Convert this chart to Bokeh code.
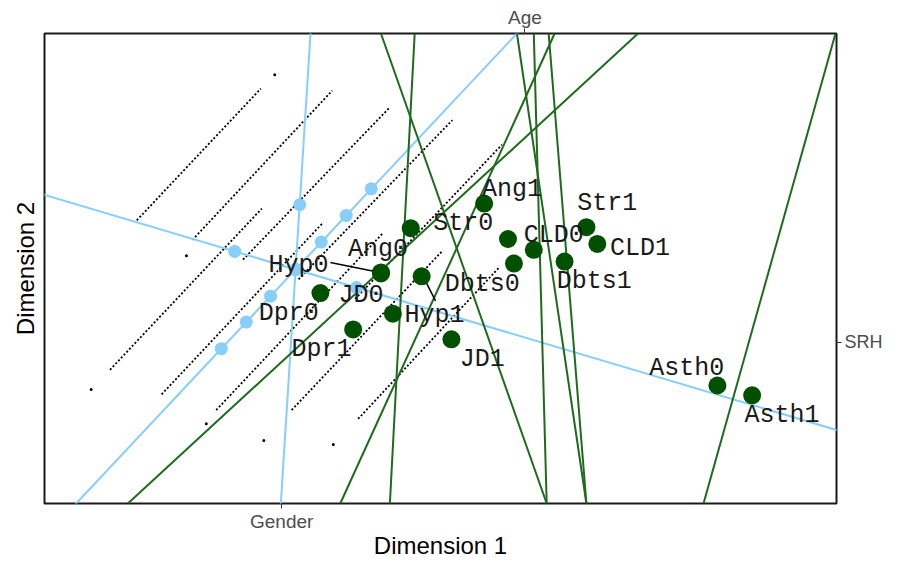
import numpy as np
from bokeh.plotting import figure
from bokeh.models import Range1d, LinearAxis, FixedTicker, ColumnDataSource
from bokeh.core.properties import value
from bokeh.embed import file_html
from bokeh.resources import INLINE

# ---------------- data ----------------
# calibrated (continuous) axes through the origin
axis_names = ["Age", "Gender", "SRH"]
axis_dir_x = [2.23, 0.15, 7.98]
axis_dir_y = [2.40, 2.40, -2.39]
axis_marks = [[-1.10, -0.73, -0.37, 0.0, 0.38, 0.75, 1.12],
              [0.0, 0.66],
              [-0.64, 0.0, 0.64]]
# where the axis labels sit on the frame
age_tick_x = 2.31
gender_tick_x = -0.14
srh_tick_y = -0.74

# category level points
cat_names = ["Ang1", "Str0", "CLD0", "Str1", "CLD1", "Dbts1", "Dbts0", "Ang0",
             "Hyp0", "Hyp1", "JD0", "Dpr0", "Dpr1", "JD1", "Asth0", "Asth1", ""]
cat_x = [1.90, 1.16, 2.14, 2.93, 3.04, 2.71, 2.20, 0.86,
         0.86, 1.27, 0.98, 0.25, 0.58, 1.57, 4.25, 4.60, 2.40]
cat_y = [0.67, 0.42, 0.31, 0.43, 0.26, 0.08, 0.06, -0.03,
         -0.04, -0.07, -0.45, -0.24, -0.61, -0.71, -1.18, -1.28, 0.20]
# label positions (repelled)
lab_x = [2.18, 1.69, 2.60, 3.14, 3.47, 3.01, 1.88, 0.83,
         0.03, 1.40, 0.66, -0.07, 0.26, 1.88, 3.94, 4.90, 0]
lab_y = [0.81, 0.47, 0.35, 0.67, 0.21, -0.12, -0.15, 0.20,
         0.04, -0.47, -0.26, -0.45, -0.81, -0.92, -1.01, -1.48, 0]
# leader segments
lead_x0 = [0.35, 1.29]
lead_y0 = [0.07, -0.08]
lead_x1 = [0.85, 1.41]
lead_y1 = [-0.03, -0.32]

# category boundary lines
bnd_x0 = [-1.69, 0.95, 0.86, 2.23, 2.40, 2.55, 2.61, 5.44]
bnd_y0 = [-2.38, -2.38, 2.40, 2.40, 2.40, 2.40, 2.40, 2.40]
bnd_x1 = [3.45, 1.20, 2.53, 2.93, 2.53, 2.93, 0.45, 4.11]
bnd_y1 = [2.40, 2.40, -2.38, -2.38, -2.38, -2.38, -2.38, -2.38]

# dotted region lines
dot_x0 = [-1.60, -1.04, -0.53, 0.03, 0.60, -1.87, -1.35, -0.80, -0.04, 0.63]
dot_y0 = [0.50, 0.30, 0.10, -0.10, -0.30, -1.02, -1.27, -1.43, -1.43, -1.52]
dot_x1 = [-0.35, 0.37, 0.95, 1.58, 2.08, -0.34, 0.28, 0.88, 1.48, 2.05]
dot_y1 = [1.84, 1.82, 1.65, 1.52, 1.27, 0.62, 0.48, 0.37, 0.19, 0.02]
# isolated points of the dotted regions
stray_x = [-0.21, -2.06, -0.90, -0.32, 0.38, -1.10]
stray_y = [1.98, -1.22, -1.57, -1.74, -1.78, 0.14]

# ---------------- figure ----------------
p = figure(frame_width=792, frame_height=470,
           x_range=Range1d(-2.53, 5.45), y_range=Range1d(-2.38, 2.40),
           output_backend="svg", toolbar_location=None,
           x_axis_location=None, y_axis_location=None,
           min_border_left=44, min_border_right=46, min_border_top=33,
           min_border_bottom=58)
p.grid.grid_line_color = None
p.outline_line_color = "#1a1a1a"
p.outline_line_width = 2
p.background_fill_color = "white"
p.border_fill_color = "white"

def style_axis(ax):
    ax.axis_line_color = None
    ax.major_tick_out = 5
    ax.major_tick_in = 0
    ax.major_tick_line_color = "#333333"
    ax.major_tick_line_width = 1
    ax.minor_tick_line_color = None
    ax.major_label_text_font = "Liberation Sans"
    ax.major_label_text_font_size = "19px"
    ax.major_label_text_color = "#4d4d4d"
    ax.major_label_standoff = 2
    ax.axis_label_text_font = "Liberation Sans"
    ax.axis_label_text_font_size = "24px"
    ax.axis_label_text_font_style = "normal"
    ax.axis_label_text_color = "black"
    ax.axis_label_standoff = -3

bottom = LinearAxis(ticker=FixedTicker(ticks=[gender_tick_x]),
                    major_label_overrides={gender_tick_x: "Gender"},
                    axis_label="Dimension 1")
style_axis(bottom)
p.add_layout(bottom, "below")

top = LinearAxis(ticker=FixedTicker(ticks=[age_tick_x]),
                 major_label_overrides={age_tick_x: "Age"})
style_axis(top)
top.major_label_standoff = 1
p.add_layout(top, "above")

right = LinearAxis(ticker=FixedTicker(ticks=[srh_tick_y]),
                   major_label_overrides={srh_tick_y: "SRH"})
style_axis(right)
right.major_label_text_font_size = "18px"
right.major_label_standoff = 3
right.major_label_orientation = "horizontal"
p.add_layout(right, "right")

left = LinearAxis(ticker=FixedTicker(ticks=[]), axis_label="Dimension 2")
style_axis(left)
left.major_tick_out = 0
left.major_label_standoff = 0
left.axis_label_standoff = 6
p.add_layout(left, "left")

# dotted region lines
p.segment(dot_x0, dot_y0, dot_x1, dot_y1, line_color="black", line_width=1.8,
          line_dash="2 2")
p.scatter(stray_x, stray_y, size=3, fill_color="black", line_color=None)

# calibrated axes
blue = "#87CEFA"
ax_x0, ax_y0, ax_x1, ax_y1 = [], [], [], []
mk_x, mk_y = [], []
for dx, dy, marks in zip(axis_dir_x, axis_dir_y, axis_marks):
    n = np.hypot(dx, dy)
    ux, uy = dx / n, dy / n
    ax_x0.append(-15 * ux); ax_y0.append(-15 * uy)
    ax_x1.append(15 * ux); ax_y1.append(15 * uy)
    for t in marks:
        mk_x.append(t * ux); mk_y.append(t * uy)
p.segment(ax_x0, ax_y0, ax_x1, ax_y1, line_color=blue, line_width=2)

# boundary lines
p.segment(bnd_x0, bnd_y0, bnd_x1, bnd_y1, line_color="#1e6b1e", line_width=2)

# leaders
p.segment(lead_x0, lead_y0, lead_x1, lead_y1, line_color="black", line_width=1.5)

# markers on calibrated axes
p.scatter(mk_x, mk_y, size=13, fill_color=blue, line_color=None)

# category points
p.scatter(cat_x, cat_y, size=18, fill_color="#005000", line_color=None)

# labels
src = ColumnDataSource(dict(x=lab_x, y=lab_y, t=cat_names))
p.text("x", "y", text="t", source=src, text_font=value("Liberation Mono"),
       text_font_size="25px", text_align="center", text_baseline="middle",
       text_color="#1a1a1a")

open("out.html", "w").write(file_html(p, INLINE))
